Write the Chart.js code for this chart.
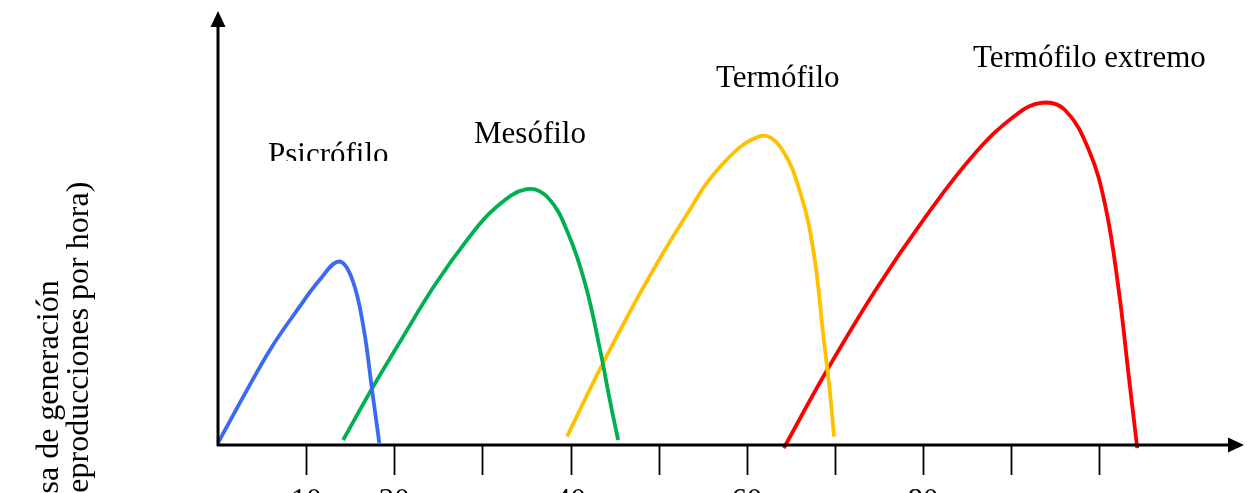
<!DOCTYPE html>
<html>
<head>
<meta charset="utf-8">
<script src="https://cdn.jsdelivr.net/npm/chart.js@4.4.1/dist/chart.umd.min.js"></script>
<style>
  html, body { margin: 0; padding: 0; background: #ffffff; }
  #wrap { position: relative; width: 1252px; height: 493px; }
</style>
</head>
<body>
<div id="wrap"><canvas id="c"></canvas></div>
<script>
// ---- Data (temperature in °C, generation rate in arbitrary units) ----
const curveNames = ['Psicrófilo', 'Mesófilo', 'Termófilo', 'Termófilo extremo'];

const psicroTemp = [0, 3, 6, 9, 11.5, 13.7, 15.2, 16.5, 17.5, 18.3];
const psicroRate = [0, 11.3, 22.1, 31.1, 38.0, 42.4, 38.4, 27.1, 12.1, 0];

const mesoTemp = [14.2, 17.5, 20.9, 24.6, 28.4, 31.4, 35.0, 37.5, 39.8, 41.7, 43.4, 44.5, 45.4];
const mesoRate = [0.7, 12.8, 24.5, 36.9, 47.8, 54.8, 59.3, 57.2, 48.6, 36.9, 21.3, 9.6, 0.7];

const termoTemp = [39.6, 43.4, 48.3, 52.8, 57.0, 61.5, 63.8, 66.1, 67.6, 68.7, 69.4, 69.9];
const termoRate = [1.5, 17.5, 36.5, 52.1, 64.6, 71.7, 69.2, 58.3, 44.3, 24.8, 12.5, 1.5];

const extremoTemp = [64.2, 68.9, 74.6, 80.3, 85.9, 90.5, 93.5, 96.1, 98.8, 100.7, 102.2, 103.3, 104.3];
const extremoRate = [-1.2, 16.3, 35.7, 52.9, 67.7, 76.6, 79.5, 77.8, 68.5, 55.2, 35.7, 16.3, -1.2];

const axisTicks = [10, 20, 30, 40, 50, 60, 70, 80, 90, 100];
const tickLabelValues = [10, 20, 40, 60, 80];
const tickLabels = ['10', '20', '40', '60', '80'];

const yTitleLines = ['Tasa de generación', '(reproducciones por hora)'];

// ---- helpers ----
function pts(xs, ys) { return xs.map((x, i) => ({ x: x, y: ys[i] })); }

const colors = ['#3A6AF5', '#00B050', '#FFC000', '#FF0000'];
const series = [
  pts(psicroTemp, psicroRate),
  pts(mesoTemp, mesoRate),
  pts(termoTemp, termoRate),
  pts(extremoTemp, extremoRate)
];

const FONT = '"Liberation Serif", "Times New Roman", serif';

const decorPlugin = {
  id: 'decor',
  afterDatasetsDraw(chart) {
    const ctx = chart.ctx;
    const xs = chart.scales.x, ys = chart.scales.y;
    const x0 = xs.getPixelForValue(0);
    const yAxis = ys.getPixelForValue(0) + 2;
    ctx.save();
    ctx.strokeStyle = '#000';
    ctx.fillStyle = '#000';
    // Y axis
    ctx.lineWidth = 3;
    ctx.beginPath();
    ctx.moveTo(x0, yAxis + 1);
    ctx.lineTo(x0, 25);
    ctx.stroke();
    ctx.beginPath();
    ctx.moveTo(x0, 11);
    ctx.lineTo(x0 - 7.5, 27);
    ctx.lineTo(x0 + 7.5, 27);
    ctx.closePath();
    ctx.fill();
    // X axis
    ctx.beginPath();
    ctx.moveTo(x0 - 1, yAxis);
    ctx.lineTo(1230, yAxis);
    ctx.stroke();
    ctx.beginPath();
    ctx.moveTo(1244, yAxis);
    ctx.lineTo(1228, yAxis - 7.5);
    ctx.lineTo(1228, yAxis + 7.5);
    ctx.closePath();
    ctx.fill();
    // ticks
    ctx.lineWidth = 1.8;
    axisTicks.forEach(v => {
      const px = Math.round(xs.getPixelForValue(v)) + 0.5;
      ctx.beginPath();
      ctx.moveTo(px, yAxis);
      ctx.lineTo(px, yAxis + 30);
      ctx.stroke();
    });
    // tick labels (cut by canvas bottom)
    ctx.font = '31px ' + FONT;
    ctx.textAlign = 'center';
    ctx.textBaseline = 'alphabetic';
    tickLabelValues.forEach((v, i) => {
      ctx.fillText(tickLabels[i], xs.getPixelForValue(v), 510);
    });
    // curve labels
    ctx.textAlign = 'left';
    ctx.fillText(curveNames[1], 474, 143);
    ctx.fillText(curveNames[2], 716, 87);
    ctx.fillText(curveNames[3], 973, 67);
    ctx.save();
    ctx.beginPath();
    ctx.rect(250, 120, 200, 41);
    ctx.clip();
    ctx.fillText(curveNames[0], 268, 164);
    ctx.restore();
    // y title (rotated)
    ctx.font = '32px ' + FONT;
    ctx.save();
    ctx.translate(58, 525);
    ctx.rotate(-Math.PI / 2);
    ctx.fillText(yTitleLines[0], 0, 0);
    ctx.restore();
    ctx.save();
    ctx.translate(88, 514);
    ctx.rotate(-Math.PI / 2);
    ctx.fillText(yTitleLines[1], 0, 0);
    ctx.restore();
    ctx.restore();
  }
};

new Chart(document.getElementById('c'), {
  type: 'line',
  data: {
    datasets: series.map((d, i) => ({
      label: curveNames[i],
      data: d,
      borderColor: colors[i],
      backgroundColor: colors[i],
      borderWidth: 3.8,
      pointRadius: 0,
      fill: false,
      tension: 0.4,
      clip: false
    }))
  },
  options: {
    responsive: true,
    maintainAspectRatio: false,
    animation: false,
    layout: { padding: { left: 218, right: 9, top: 15, bottom: 50 } },
    plugins: { legend: { display: false }, tooltip: { enabled: false } },
    scales: {
      x: { type: 'linear', min: 0, max: 116.3, display: false },
      y: { type: 'linear', min: 0, max: 100, display: false }
    }
  },
  plugins: [decorPlugin]
});
</script>
</body>
</html>
